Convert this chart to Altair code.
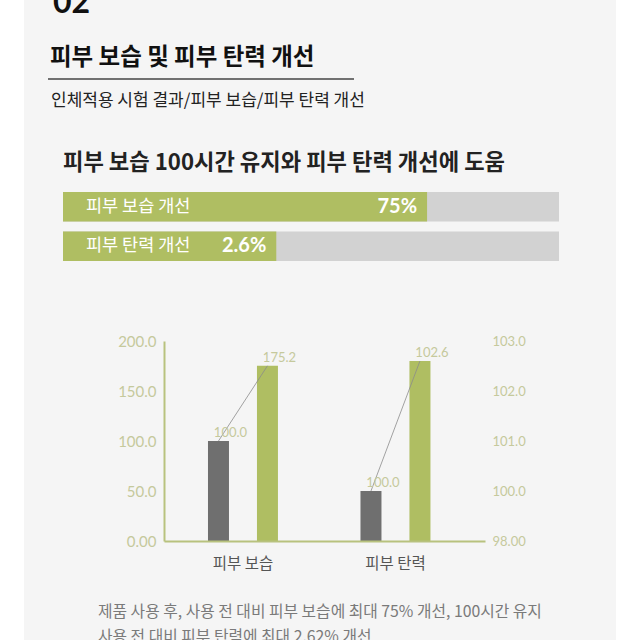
import altair as alt
import pandas as pd

# ---------------- data ----------------
groups = ["피부 보습", "피부 탄력"]
series = ["before", "after"]
moist_values = [100.0, 175.2]
elastic_values = [100.0, 102.6]
left_ticks = [0, 50, 100, 150, 200]
right_ticks = [99, 100, 101, 102, 103]

prog_labels = ["피부 보습 개선", "피부 탄력 개선"]
prog_text = ["75%", "2.6%"]
prog_fill = [73.4, 43.0]
prog_total = [100, 100]
prog_start = [0, 0]

title_num = "02"
title = "피부 보습 및 피부 탄력 개선"
subtitle = "인체적용 시험 결과/피부 보습/피부 탄력 개선"
heading = "피부 보습 100시간 유지와 피부 탄력 개선에 도움"
note1 = "제품 사용 후, 사용 전 대비 피부 보습에 최대 75% 개선, 100시간 유지"
note2 = "사용 전 대비 피부 탄력에 최대 2.62% 개선"

# ---------------- style ----------------
KR = "Noto Sans CJK KR"
NUM = "Lato"
GREEN = "#afbe62"
DARK = "#6f6f6f"
AXIS = "#b8c27e"
LABEL = "#c5c99c"


def txt(s, x, y, size, weight="normal", color="#222222", align="left",
        baseline="middle", font=KR):
    return alt.Chart(pd.DataFrame({"t": [s]})).mark_text(
        align=align, baseline=baseline, font=font, fontSize=size,
        fontWeight=weight, color=color
    ).encode(x=alt.value(x), y=alt.value(y), text="t:N")


bg = alt.Chart(pd.DataFrame({"t": [0]})).mark_rect(color="#f5f5f5").encode(
    x=alt.value(24), x2=alt.value(616), y=alt.value(0), y2=alt.value(640))
rule = alt.Chart(pd.DataFrame({"t": [0]})).mark_rule(color="#444444", strokeWidth=1.5).encode(
    x=alt.value(48), x2=alt.value(354), y=alt.value(79))

texts = [
    txt(title_num, 53, 13, 32, weight="bold", color="#111111", baseline="alphabetic", font=NUM),
    txt(title, 50, 58, 23.5, weight="bold", color="#111111"),
    txt(subtitle, 51, 101, 17, color="#222222"),
    txt(heading, 63, 163, 22.2, weight="bold", color="#222222"),
    txt(note1, 98, 612, 15.8, color="#7a7a7a"),
    txt(note2, 98, 637, 15.8, color="#7a7a7a"),
]

# ---------------- progress bars ----------------
prog_df = pd.DataFrame({"row": prog_labels, "txt": prog_text, "fill": prog_fill,
                        "total": prog_total, "start": prog_start})
px = alt.Scale(domain=[0, 100], range=[63, 559])
py = alt.Scale(domain=prog_labels, range=[192, 261], paddingInner=0.253, paddingOuter=0)
pb = alt.Chart(prog_df)
prog_y = alt.Y("row:N", scale=py, axis=None)
prog = alt.layer(
    pb.mark_bar(color="#d2d2d2").encode(x=alt.X("total:Q", scale=px, axis=None), y=prog_y),
    pb.mark_bar(color=GREEN).encode(x=alt.X("fill:Q", scale=px, axis=None), y=prog_y),
    pb.mark_text(align="left", dx=23, color="white", font=KR, fontSize=17.5).encode(
        x=alt.X("start:Q", scale=px, axis=None), y=prog_y, text="row:N"),
    pb.mark_text(align="right", dx=-10, color="white", font=NUM, fontSize=20,
                 fontWeight="bold").encode(
        x=alt.X("fill:Q", scale=px, axis=None), y=prog_y, text="txt:N"),
)

# ---------------- bar chart ----------------
xs = alt.Scale(domain=groups, range=[164, 485], paddingInner=0, paddingOuter=0.0525, align=0.17)
xaxis = alt.Axis(orient="bottom", offset=-99, title=None, labelAngle=0, ticks=False,
                 domainColor=AXIS, domainWidth=2, labelColor="#555555", labelFont=KR,
                 labelFontSize=15.5, labelPadding=15, grid=False, zindex=1)
xenc = alt.X("group:N", scale=xs, axis=xaxis)
xo = alt.XOffset("series:N", scale=alt.Scale(domain=series, paddingInner=0.5714,
                                             paddingOuter=0.8424))
cenc = alt.Color("series:N", scale=alt.Scale(domain=series, range=[DARK, GREEN]), legend=None)

y1 = alt.Scale(domain=[0, 200], range=[541, 341], zero=False, nice=False)
y1axis = alt.Axis(orient="left", offset=-164, values=left_ticks, title=None, ticks=False,
                  grid=False, domainColor=AXIS, domainWidth=2, labelColor=LABEL,
                  labelFont=NUM, labelFontSize=15, labelPadding=8, zindex=1,
                  labelExpr="datum.value == 0 ? '0.00' : format(datum.value, '.1f')")
y2 = alt.Scale(domain=[99, 103], range=[541, 341], zero=False, nice=False)
y2axis = alt.Axis(orient="right", offset=-155, values=right_ticks, title=None, ticks=False,
                  grid=False, domain=False, labelColor=LABEL, labelFont=NUM,
                  labelFontSize=13, labelPadding=7, zindex=1,
                  labelExpr="datum.value == 99 ? '98.00' : format(datum.value, '.1f')")


def group_layer(name, values, yscale, yaxis, base):
    df = pd.DataFrame({"group": [name] * 2, "series": series, "value": values})
    c = alt.Chart(df)
    yenc = alt.Y("value:Q", scale=yscale, axis=yaxis)
    bars = c.mark_bar().encode(x=xenc, xOffset=xo, y=yenc, y2=alt.datum(base), color=cenc)
    line = c.mark_line(color="#8c8c8c", strokeWidth=0.8).encode(x=xenc, xOffset=xo, y=yenc)
    labs = c.mark_text(dx=12, dy=-4, baseline="alphabetic", font=NUM, fontSize=13,
                       color=LABEL).encode(
        x=xenc, xOffset=xo, y=yenc, text=alt.Text("value:Q", format=".1f"))
    return alt.layer(bars, line, labs)


bars_chart = alt.layer(
    group_layer(groups[0], moist_values, y1, y1axis, 0),
    group_layer(groups[1], elastic_values, y2, y2axis, 99),
).resolve_scale(y="independent")

chart = alt.layer(bg, rule, *texts, prog, bars_chart).resolve_scale(
    x="independent", y="independent"
).properties(
    width=640, height=640, autosize="none", padding=0, background="white"
).configure_view(stroke=None)

chart.save("out.html", embed_options={"renderer": "svg", "actions": False})
